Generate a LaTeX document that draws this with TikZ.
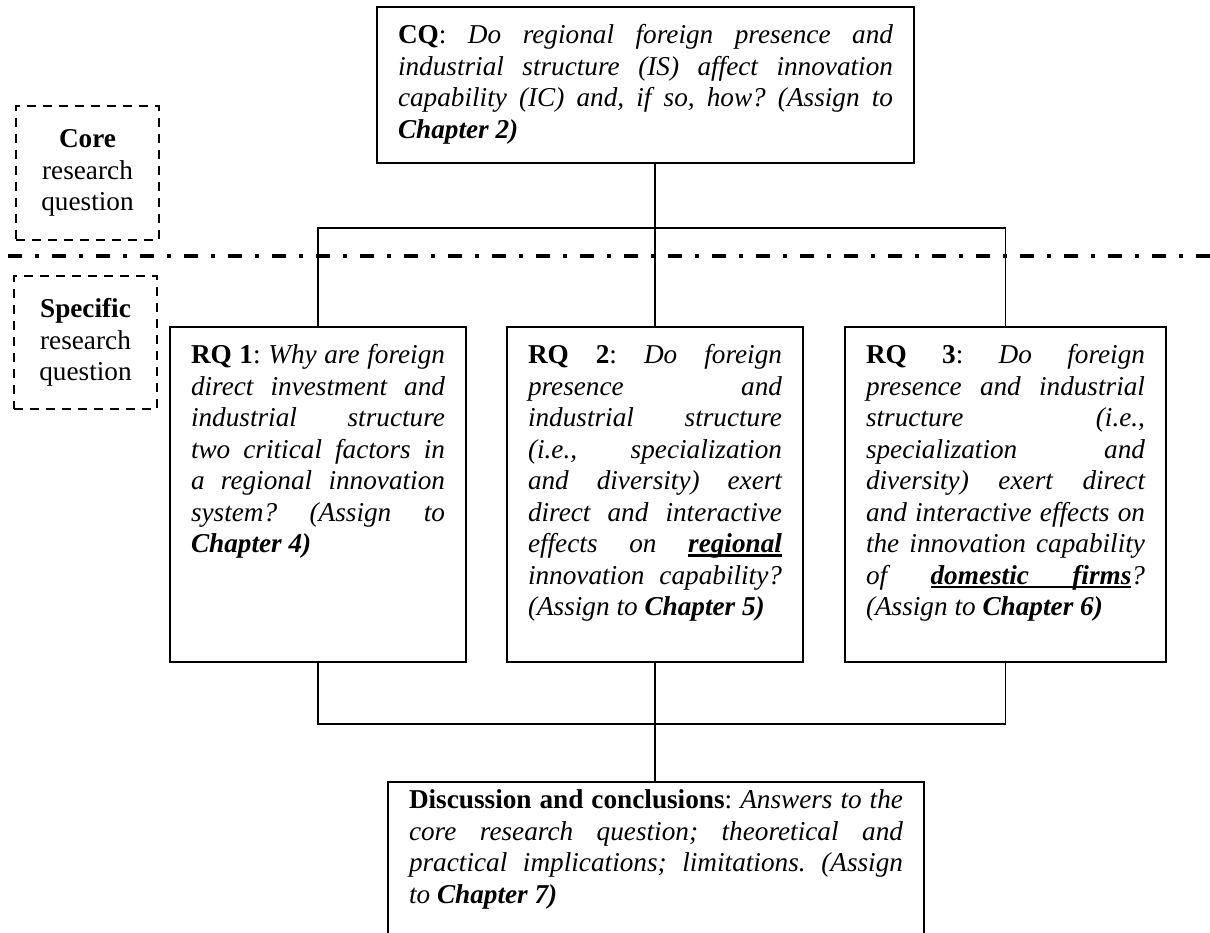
\documentclass[tikz,border=0pt]{standalone}
\usepackage{fontspec}
\setmainfont{Liberation Serif}
\newcommand{\qfont}{\fontsize{15.5}{17.9}\selectfont\frenchspacing\hyphenpenalty=10000\relax}
\newcommand{\ulword}[1]{\leavevmode\setbox0=\hbox{#1}\rlap{\rule[-2.3pt]{\wd0}{1.4pt}}\box0}
\newcommand{\ulgap}{\leaders\hrule height -0.9pt depth 2.3pt\hskip\fontdimen2\font plus\fontdimen3\font minus\fontdimen4\font\relax}

\begin{document}
\begin{tikzpicture}[
  qbox/.style={draw, line width=1.1pt, anchor=north, align=justify,
               inner xsep=0.42cm, inner ysep=0.3cm, text height=0.44cm, font=\qfont},
  tag/.style={draw, dash pattern=on 0.18cm off 0.14cm, line width=1.4pt,
              minimum width=2.86cm, align=center, font=\qfont},
  link/.style={line width=0.6pt},
]
  \useasboundingbox (0,0) rectangle (24.2,-18.64);

  \node[tag, minimum height=2.68cm] (coretag) at (1.75,-3.46) {\textbf{Core}\\research\\question};
  \node[tag, minimum height=2.66cm] (spectag) at (1.71,-6.85) {\textbf{Specific}\\research\\question};

  \draw[line width=2pt, dash pattern=on 0.28cm off 0.26cm on 0.08cm off 0.26cm]
    (0.16,-5.12) -- (24.2,-5.12);

  \node[qbox, text width=9.90cm, text depth=2.08cm] (cq) at (12.91,-0.12) {
    \textbf{CQ}: \textit{Do regional foreign presence and\linebreak
    industrial structure (IS) affect innovation\linebreak
    capability (IC) and, if so, how? (Assign to\linebreak
    \textbf{Chapter 2)}}
  };
  \node[qbox, text width=5.08cm, text depth=5.66cm] (rq1) at (6.36,-6.52) {
    \textbf{RQ 1}: \textit{Why are foreign\linebreak
    direct investment and\linebreak
    industrial structure\linebreak
    two critical factors in\linebreak
    a regional innovation\linebreak
    system? (Assign to\linebreak
    \textbf{Chapter 4)}}
  };
  \node[qbox, text width=5.08cm, text depth=5.66cm] (rq2) at (13.10,-6.52) {
    \textbf{RQ 2}: \textit{Do foreign\linebreak
    presence and\linebreak
    industrial structure\linebreak
    (i.e., specialization\linebreak
    and diversity) exert\linebreak
    direct and interactive\linebreak
    effects on {\bfseries\ulword{regional}}\linebreak
    innovation capability?\linebreak
    (Assign to \textbf{Chapter 5)}}
  };
  \node[qbox, text width=5.58cm, text depth=5.66cm] (rq3) at (20.11,-6.52) {
    \textbf{RQ 3}: \textit{Do foreign\linebreak
    presence and industrial\linebreak
    structure (i.e.,\linebreak
    specialization and\linebreak
    diversity) exert direct\linebreak
    and interactive effects on\linebreak
    the innovation capability\linebreak
    of {\bfseries\ulword{domestic}\ulgap\ulword{firms}}?\linebreak
    (Assign to \textbf{Chapter 6)}}
  };
  \node[qbox, text width=9.88cm, text height=0.24cm, text depth=2.86cm] (concl) at (13.12,-15.62) {
    \textbf{Discussion and conclusions}: \textit{Answers to the\linebreak
    core research question; theoretical and\linebreak
    practical implications; limitations. (Assign\linebreak
    to \textbf{Chapter 7)}}
  };

  \coordinate (topbar) at (0,-4.56);
  \coordinate (botbar) at (0,-14.48);
  \draw[link] (cq.south -| rq2.north) -- (rq2.north);
  \draw[link] (rq1.north) |- (rq3.north |- topbar) -- (rq3.north);
  \draw[link] (rq1.south) |- (rq3.south |- botbar) -- (rq3.south);
  \draw[link] (rq2.south) -- (rq2.south |- concl.north);
\end{tikzpicture}
\end{document}
